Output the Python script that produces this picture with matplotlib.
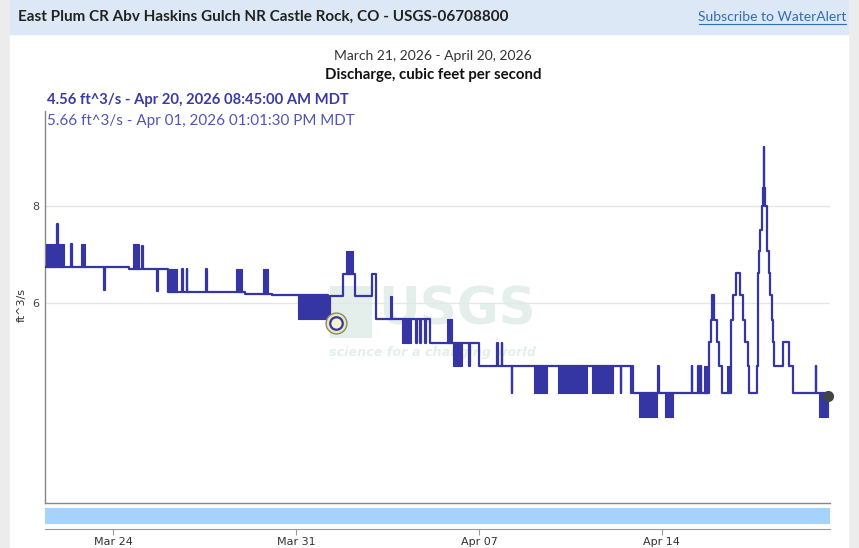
import numpy as np
import matplotlib
matplotlib.use('Agg')
import matplotlib.pyplot as plt
import matplotlib.dates as mdates
from matplotlib.patches import Rectangle

# data: step series, days since 2026-03-21 00:00 and discharge (ft^3/s)
t_days = [0.437, 0.869, 0.905, 1.382, 1.42, 2.656, 2.69, 3.6, 4.098, 4.13,
          4.672, 4.71, 5.104, 5.628, 5.66, 5.819, 5.85, 6.546, 6.58, 8.05,
          9.083, 11.225, 11.301, 11.787, 12.258, 12.897, 13.061,
          14.59, 14.62, 14.744, 14.77, 14.936, 14.96, 15.127,
          16.631, 16.66, 17.002, 17.679, 17.71, 17.87, 17.9, 18.252, 18.28,
          22.422, 22.45, 22.817, 22.845, 22.905, 23.862, 23.89,
          25.138, 25.165, 25.39, 25.415, 25.48, 25.505,
          25.812, 25.865, 25.904, 26.004, 26.096, 26.184, 26.286,
          26.642, 26.73, 26.822, 26.986, 27.09, 27.177, 27.281, 27.342,
          27.625, 27.663, 27.674, 27.686, 27.694, 27.701, 27.755, 27.82,
          27.858, 27.897, 27.92, 27.958, 28.012, 28.023, 28.088, 28.138,
          28.203, 28.241, 28.302, 28.643, 28.861, 29.025, 29.882, 29.91,
          30.02, 30.365]
flow = [6.68, 7.58, 6.68, 7.15, 6.68, 6.24, 6.68, 6.64, 7.1, 6.64,
        6.22, 6.64, 6.2, 6.64, 6.2, 6.64, 6.2, 6.63, 6.2, 6.16,
        6.14, 5.66, 6.13, 6.53, 6.13, 6.53, 5.72,
        5.33, 5.72, 5.33, 5.72, 5.33, 5.72, 5.33,
        4.97, 5.33, 4.97, 5.33, 4.97, 5.33, 4.97, 4.6, 4.97,
        4.6, 4.97, 4.6, 4.97, 4.6, 4.97, 4.6,
        4.97, 4.6, 4.97, 4.6, 4.97, 4.6,
        5.35, 5.7, 6.14, 5.7, 5.35, 4.97, 4.6,
        5.7, 6.14, 6.55, 6.14, 5.7, 5.35, 4.97, 4.6,
        4.97, 5.35, 5.7, 6.14, 6.55, 6.99, 7.45, 8.0,
        8.43, 9.52, 8.43, 8.0, 7.45, 6.99, 6.55, 6.14,
        5.7, 5.35, 4.97, 5.35, 4.97, 4.6, 4.97, 4.6,
        4.6, 4.56]

# rapid flicker between two levels (start day, end day, low, high)
band_t0 = [0.437, 0.905, 1.764, 3.754, 5.104, 7.705, 8.75, 10.089, 11.914,
           13.597, 14.044, 15.766, 16.018, 19.105, 20.035, 21.313, 23.134,
           24.117, 25.621, 26.477, 30.02]
band_t1 = [0.85, 1.125, 1.929, 3.995, 5.437, 7.923, 8.941, 11.225, 12.193,
           13.673, 14.389, 15.957, 16.339, 19.614, 21.122, 22.139, 23.8,
           24.412, 25.774, 26.604, 30.364]
band_lo = [6.68, 6.68, 6.68, 6.64, 6.2, 6.2, 6.16, 5.72, 6.53,
           5.72, 5.33, 5.33, 4.97, 4.6, 4.6, 4.6, 4.28,
           4.28, 4.6, 4.6, 4.28]
band_hi = [7.15, 7.15, 7.15, 7.15, 6.64, 6.63, 6.63, 6.14, 7.0,
           6.12, 5.72, 5.72, 5.33, 4.97, 4.97, 4.97, 4.6,
           4.6, 4.97, 4.97, 4.6]

hover_day = 11.542
hover_val = 5.66

start = np.datetime64('2026-03-21T00:00')
def to_date(d):
    return start + (np.asarray(d) * 86400).astype('timedelta64[s]')

line_col = '#3535a3'
wm_col = '#e4efec'
W, H = 859, 548

fig = plt.figure(figsize=(W / 100, H / 100), dpi=100)
fig.patch.set_facecolor('#ececec')
fig.add_artist(Rectangle((10 / W, 0), 838 / W, 1, transform=fig.transFigure,
                         color='white', zorder=-2))
fig.add_artist(Rectangle((10 / W, 1 - 34 / H), 838 / W, 34 / H,
                         transform=fig.transFigure, color='#dce8f5', zorder=-1))

fig.text(18 / W, 1 - 17 / H,
         'East Plum CR Abv Haskins Gulch NR Castle Rock, CO - USGS-06708800',
         fontsize=11, fontweight='bold', family=['Lato', 'DejaVu Sans'],
         color='#222222', va='center')
fig.text(846 / W, 1 - 17 / H, 'Subscribe to WaterAlert', fontsize=10,
         family=['Lato', 'DejaVu Sans'], color='#2f6db5', va='center',
         ha='right')
fig.add_artist(plt.Line2D([699 / W, 846 / W], [1 - 24 / H, 1 - 24 / H],
                          color='#2f6db5', lw=0.8))

fig.text(433 / W, 1 - 56 / H, 'March 21, 2026 - April 20, 2026', fontsize=10,
         family=['Lato', 'DejaVu Sans'], color='#333333', ha='center',
         va='center')
fig.text(433 / W, 1 - 75 / H, 'Discharge, cubic feet per second',
         fontsize=10.8, fontweight='bold', family=['Lato', 'DejaVu Sans'],
         color='#111111', ha='center', va='center')
fig.text(47 / W, 1 - 100 / H, '4.56 ft^3/s - Apr 20, 2026 08:45:00 AM MDT',
         fontsize=10.6, fontweight='bold', family=['Lato', 'DejaVu Sans'],
         color='#3a3aa6', va='center')
fig.text(47 / W, 1 - 121 / H, '5.66 ft^3/s - Apr 01, 2026 01:01:30 PM MDT',
         fontsize=10.9, family=['Lato', 'DejaVu Sans'], color='#5454b4',
         va='center')

# main plot
ax = fig.add_axes([45 / W, 45 / H, 785 / W, 392 / H])
ax.set_facecolor('none')
ax.set_yscale('log')
ax.set_ylim(3.316, 10.6)
ax.set_xlim(to_date(0.399), to_date(30.43))
ax.set_yticks([6, 8])
ax.set_yticklabels(['6', '8'])
ax.yaxis.set_minor_locator(matplotlib.ticker.NullLocator())
ax.tick_params(axis='y', length=0, pad=4, labelsize=8, labelcolor='#444444')
ax.tick_params(axis='x', length=0, labelbottom=False)
ax.grid(axis='y', color='#e6e6e6', lw=1)
ax.set_axisbelow(True)
for s in ['top', 'right']:
    ax.spines[s].set_visible(False)
for s in ['left', 'bottom']:
    ax.spines[s].set_color('#888888')
    ax.spines[s].set_linewidth(1)

# faint USGS watermark
ax.add_patch(Rectangle(((330 - 45) / 785, (503 - 338) / 392), 42 / 785,
                       52 / 392, transform=ax.transAxes, color=wm_col, lw=0,
                       zorder=0))
ax.text(0.525, 0.49, 'USGS', transform=ax.transAxes, fontsize=37,
        fontweight='bold', color=wm_col, ha='center', va='center', zorder=0)
ax.text(0.493, 0.385, 'science for a changing world', transform=ax.transAxes,
        fontsize=9.2, fontweight='bold', style='italic', color=wm_col,
        ha='center', va='center', zorder=0)

ax.plot(to_date(t_days), flow, drawstyle='steps-post', color=line_col, lw=1.6,
        zorder=3)
for a, b, lo, hi in zip(band_t0, band_t1, band_lo, band_hi):
    ax.fill_between(to_date([a, b]), [lo, lo], [hi, hi], color=line_col,
                    lw=0.8, zorder=3)

ax.plot(to_date([hover_day]), [hover_val], 'o', ms=15, mfc='#e9e9b8',
        mec='#8a8a6a', mew=1, zorder=5)
ax.plot(to_date([hover_day]), [hover_val], 'o', ms=9, mfc='#f3f3cf',
        mec=line_col, mew=1.6, zorder=6)
ax.plot(to_date([t_days[-1]]), [flow[-1]], 'o', ms=7, color='#444444',
        zorder=6, clip_on=False)

fig.text(22 / W, 1 - 305 / H, 'ft^3/s', rotation=90, fontsize=8,
         color='#333333', ha='center', va='center')

# navigator strip
nav = fig.add_axes([45 / W, 19 / H, 785 / W, 21 / H], sharex=ax)
nav.set_ylim(0, 1)
nav.axhspan(0.24, 1, color='#a6d3fb', lw=0)
nav.set_yticks([])
for s in ['top', 'right', 'left']:
    nav.spines[s].set_visible(False)
nav.spines['bottom'].set_color('#999999')
nav.xaxis.set_major_locator(mdates.WeekdayLocator(byweekday=mdates.TU))
nav.xaxis.set_major_formatter(mdates.DateFormatter('%b %d'))
nav.tick_params(axis='x', length=4, color='#999999', labelsize=8,
                labelcolor='#333333', pad=2)
nav.set_xlim(to_date(0.399), to_date(30.43))

fig.savefig('out.png', dpi=100, facecolor=fig.get_facecolor())
